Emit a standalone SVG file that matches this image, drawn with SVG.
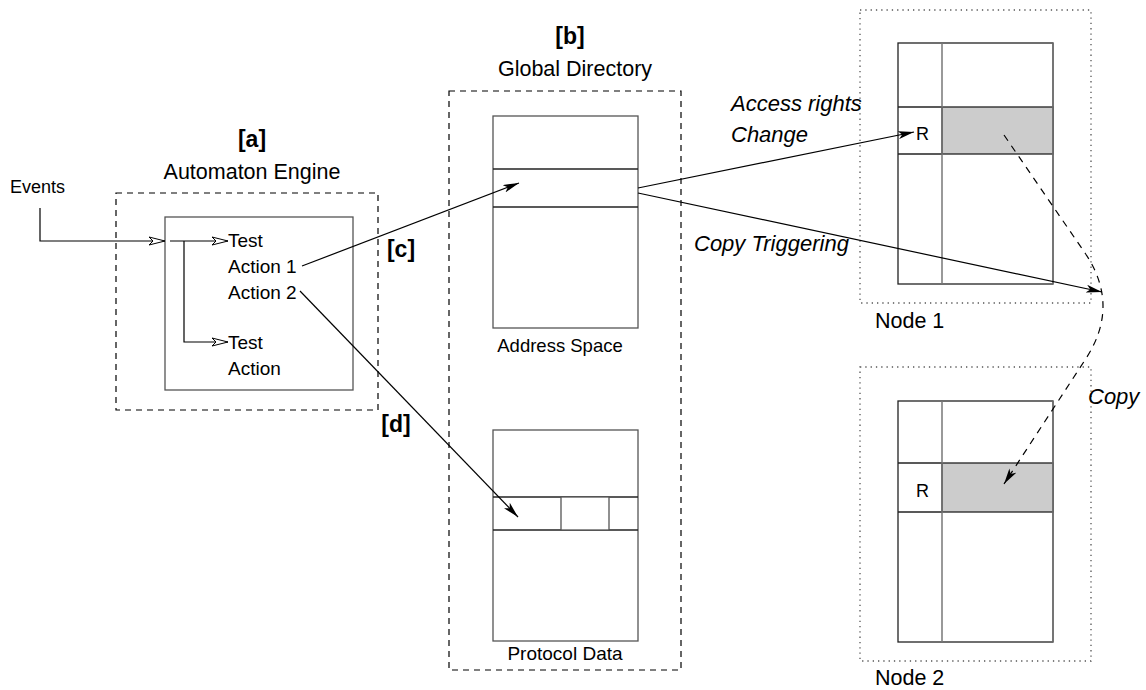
<svg xmlns="http://www.w3.org/2000/svg" width="1146" height="690" viewBox="0 0 1146 690">
<style>
text{font-family:"Liberation Sans",Arial,sans-serif;fill:#000}
.t{font-size:19px}
.ti{font-size:21.5px}
.b{font-size:23px;font-weight:bold}
.it{font-size:22px;font-style:italic}
.dash{fill:none;stroke:#000;stroke-width:1.2;stroke-dasharray:6,5}
.dot{fill:none;stroke:#555;stroke-width:1.3;stroke-dasharray:1.3,4}
.box{fill:#fff;stroke:#555;stroke-width:1.3}
.ln{fill:none;stroke:#222;stroke-width:1.3}
.lg{fill:none;stroke:#777;stroke-width:1.5}
.gray{fill:#cccccc;stroke:#222;stroke-width:1.3}
.c{fill:none;stroke:#000;stroke-width:1.2}
.cd{fill:none;stroke:#000;stroke-width:1.2;stroke-dasharray:7,6}
</style>
<defs>
<marker id="fa" viewBox="0 0 16 8" refX="16" refY="4" markerWidth="16" markerHeight="8" markerUnits="userSpaceOnUse" orient="auto">
<path d="M0,0 L16,4 L0,8 L4,4 z" fill="#000"/>
</marker>
<marker id="oa" viewBox="-1 -1 18 10" refX="16" refY="4" markerWidth="18" markerHeight="10" markerUnits="userSpaceOnUse" orient="auto">
<path d="M0,0 L16,4 L0,8 L4,4 z" fill="#fff" stroke="#000" stroke-width="1"/>
</marker>
</defs>

<g id="automaton-engine">
<text class="b" x="252" y="147" text-anchor="middle">[a]</text>
<text class="ti" x="252" y="179" text-anchor="middle">Automaton Engine</text>
<rect class="dash" x="116" y="193" width="262" height="217"/>
<rect class="box" x="165" y="217" width="188" height="173"/>
<text class="t" x="228" y="247">Test</text>
<text class="t" x="228" y="273">Action 1</text>
<text class="t" x="228" y="299">Action 2</text>
<text class="t" x="228" y="349">Test</text>
<text class="t" x="228" y="375">Action</text>
</g>

<g id="events">
<text class="t" x="10" y="193" style="font-size:18px">Events</text>
</g>

<g id="global-directory">
<text class="b" x="570" y="44" text-anchor="middle">[b]</text>
<text class="ti" x="575" y="76" text-anchor="middle">Global Directory</text>
<rect class="dash" x="449" y="91" width="232" height="579"/>
</g>

<g id="address-space">
<rect class="box" x="493" y="116" width="145" height="212"/>
<line class="ln" x1="493" y1="169" x2="638" y2="169"/>
<line class="ln" x1="493" y1="207" x2="638" y2="207"/>
<text class="t" x="560" y="352" text-anchor="middle" style="font-size:18.5px">Address Space</text>
</g>

<g id="protocol-data">
<rect class="box" x="493" y="430" width="145" height="211"/>
<line class="ln" x1="493" y1="497" x2="638" y2="497"/>
<line class="ln" x1="493" y1="530" x2="638" y2="530"/>
<rect class="box" x="561" y="497" width="48" height="33"/>
<text class="t" x="565" y="660" text-anchor="middle">Protocol Data</text>
</g>

<g id="node1">
<rect class="dot" x="860" y="10" width="231" height="293"/>
<rect class="box" x="898" y="43" width="155" height="241" style="stroke:#222"/>
<rect class="gray" x="942" y="107" width="111" height="47"/>
<line class="ln" x1="898" y1="107" x2="942" y2="107"/>
<line class="ln" x1="898" y1="154" x2="942" y2="154"/>
<line class="lg" x1="942" y1="43" x2="942" y2="284"/>
<line class="lg" x1="1053" y1="43" x2="1053" y2="284"/>
<text class="t" x="916" y="140" style="font-size:18px">R</text>
<text class="ti" x="875" y="328">Node 1</text>
</g>

<g id="node2">
<rect class="dot" x="860" y="367" width="231" height="294"/>
<rect class="box" x="898" y="401" width="155" height="241" style="stroke:#222"/>
<rect class="gray" x="942" y="463" width="111" height="49"/>
<line class="ln" x1="898" y1="463" x2="942" y2="463"/>
<line class="ln" x1="898" y1="512" x2="942" y2="512"/>
<line class="lg" x1="942" y1="401" x2="942" y2="642"/>
<line class="lg" x1="1053" y1="401" x2="1053" y2="642"/>
<text class="t" x="916" y="497" style="font-size:18px">R</text>
<text class="ti" x="875" y="685">Node 2</text>
</g>

<g id="connectors">
<polyline class="c" points="40,208 40,241 165,241" marker-end="url(#oa)"/>
<line class="c" x1="170" y1="241" x2="228" y2="241" marker-end="url(#oa)"/>
<polyline class="c" points="184,241 184,342 228,342" marker-end="url(#oa)"/>
<line class="c" x1="302" y1="266" x2="519" y2="183" marker-end="url(#fa)"/>
<line class="c" x1="300" y1="291" x2="518" y2="517" marker-end="url(#fa)"/>
<line class="c" x1="638" y1="188" x2="914" y2="132" marker-end="url(#fa)"/>
<line class="c" x1="638" y1="193" x2="1102" y2="292" marker-end="url(#fa)"/>
<path class="cd" d="M1004,135 L1085,253 Q1121,306 1085,360 L1004,484" marker-end="url(#fa)"/>
<text class="b" x="401" y="257" text-anchor="middle">[c]</text>
<text class="b" x="396" y="432" text-anchor="middle">[d]</text>
<text class="it" x="731" y="111">Access rights</text>
<text class="it" x="731" y="142">Change</text>
<text class="it" x="694" y="251">Copy Triggering</text>
<text class="it" x="1088" y="404">Copy</text>
</g>
</svg>
